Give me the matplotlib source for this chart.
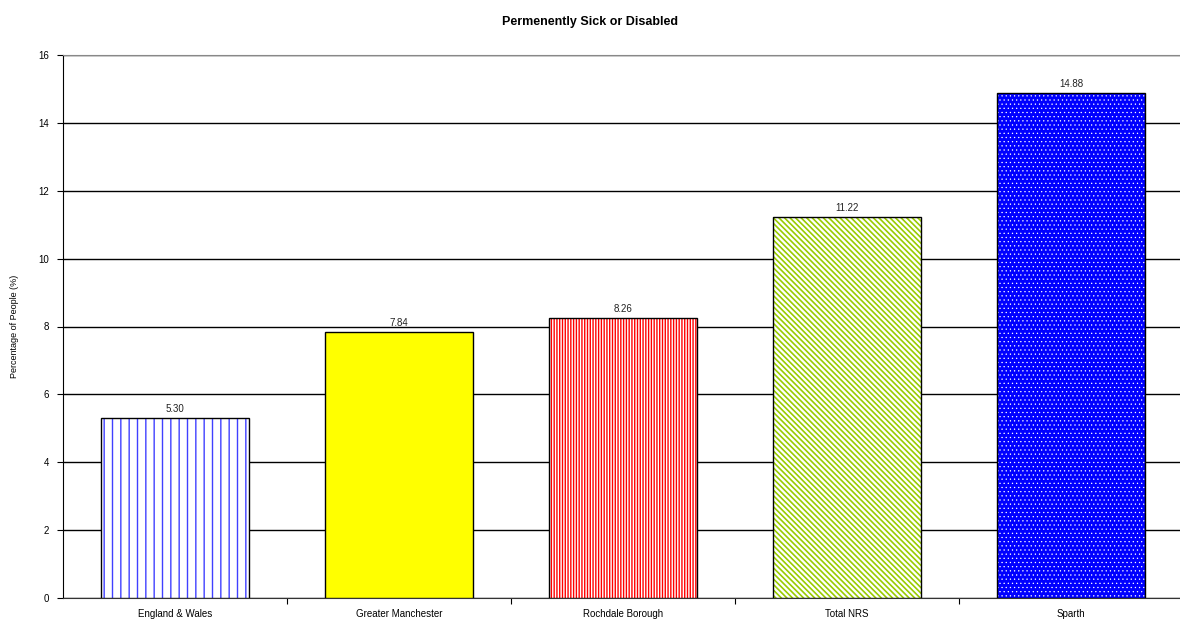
import matplotlib
matplotlib.use("Agg")
import matplotlib.pyplot as plt

categories = ["England & Wales", "Greater Manchester", "Rochdale Borough", "Total NRS", "Sparth"]
values = [5.30, 7.84, 8.26, 11.22, 14.88]
value_labels = ["5.30", "7.84", "8.26", "11.22", "14.88"]
yticks = [0, 2, 4, 6, 8, 10, 12, 14, 16]

faces = ["white", "#ffff00", "white", "white", "#0000ff"]
hatch_colors = ["#4040ff", "#ffff00", "#ff0000", "#99cc00", "white"]
hatches = ["||", None, "||||||", "\\\\\\\\\\\\", "...."]
hatch_lw = [1.0, 1.0, 1.0, 1.2, 0.4]

plt.rcParams["font.family"] = ["Liberation Sans", "DejaVu Sans"]
plt.rcParams["hatch.linewidth"] = 1.0

fig = plt.figure(figsize=(11.8, 6.21), dpi=100)
ax = fig.add_axes([63 / 1180, 1 - 598 / 621, 1120 / 1180, (598 - 55) / 621])

x = list(range(len(categories)))
w = 0.665
for i in x:
    plt.rcParams["hatch.linewidth"] = hatch_lw[i]
    bars = ax.bar(i, values[i], width=w, color=faces[i], edgecolor=hatch_colors[i],
                  hatch=hatches[i], linewidth=0, zorder=3)
    for p in bars:
        if hasattr(p, "set_hatch_linewidth"):
            p.set_hatch_linewidth(hatch_lw[i])
    ax.bar(i, values[i], width=w, fill=False, edgecolor="black", linewidth=1.0, zorder=4)
    ax.text(i, values[i] + 0.12, value_labels[i], ha="center", va="bottom",
            fontsize=7, color="#222222", zorder=5)
plt.rcParams["hatch.linewidth"] = 1.0

ax.set_xlim(-0.5, 4.5)
ax.set_ylim(0, 16)
ax.set_yticks(yticks)
ax.set_yticklabels([str(t) for t in yticks], fontsize=7)
ax.yaxis.grid(True, color="black", linewidth=1.0, zorder=1)
ax.set_axisbelow(True)

ax.set_xticks([i + 0.5 for i in x[:-1]])
ax.set_xticklabels([])
ax.set_xticks(x, minor=True)
ax.set_xticklabels(categories, minor=True, fontsize=7)
ax.tick_params(axis="x", which="minor", length=0, pad=8)
ax.tick_params(axis="x", which="major", length=4, direction="out")
ax.tick_params(axis="y", length=4, direction="out", pad=6)

ax.spines["right"].set_visible(False)
ax.spines["top"].set_color("#888888")
ax.spines["left"].set_color("black")
ax.spines["bottom"].set_color("#333333")

ax.set_ylabel("Percentage of People (%)", fontsize=6.5, labelpad=14)
fig.text(0.5, 1 - 22 / 621, "Permenently Sick or Disabled", ha="center", va="center",
         fontsize=9, fontweight="bold")

fig.savefig("out.png", dpi=100)
